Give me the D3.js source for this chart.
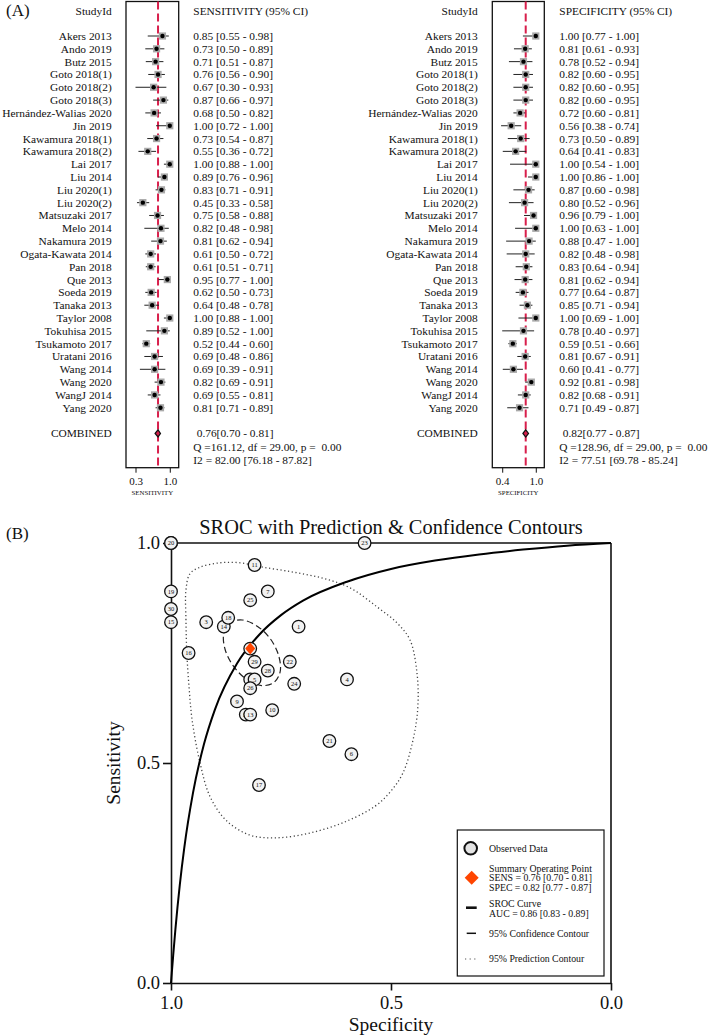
<!DOCTYPE html>
<html><head><meta charset="utf-8">
<script src="https://cdn.jsdelivr.net/npm/d3@7"></script>
<style>
body{margin:0;background:#fff}
svg{display:block}
text{font-family:"Liberation Serif","Times New Roman",serif;fill:#111}
</style>
</head><body>
<svg id="c" width="709" height="1036"></svg>
<script>
// ---------------- DATA ----------------
const studies = ["Akers 2013","Ando 2019","Butz 2015","Goto 2018(1)","Goto 2018(2)","Goto 2018(3)",
 "Hernández-Walias 2020","Jin 2019","Kawamura 2018(1)","Kawamura 2018(2)","Lai 2017","Liu 2014",
 "Liu 2020(1)","Liu 2020(2)","Matsuzaki 2017","Melo 2014","Nakamura 2019","Ogata-Kawata 2014",
 "Pan 2018","Que 2013","Soeda 2019","Tanaka 2013","Taylor 2008","Tokuhisa 2015","Tsukamoto 2017",
 "Uratani 2016","Wang 2014","Wang 2020","WangJ 2014","Yang 2020"];
const sens   = [0.85,0.73,0.71,0.76,0.67,0.87,0.68,1.00,0.73,0.55,1.00,0.89,0.83,0.45,0.75,0.82,0.81,0.61,0.61,0.95,0.62,0.64,1.00,0.89,0.52,0.69,0.69,0.82,0.69,0.81];
const sensLo = [0.55,0.50,0.51,0.56,0.30,0.66,0.50,0.72,0.54,0.36,0.88,0.76,0.71,0.33,0.58,0.48,0.62,0.50,0.51,0.77,0.50,0.48,0.88,0.52,0.44,0.48,0.39,0.69,0.55,0.71];
const sensHi = [0.98,0.89,0.87,0.90,0.93,0.97,0.82,1.00,0.87,0.72,1.00,0.96,0.91,0.58,0.88,0.98,0.94,0.72,0.71,1.00,0.73,0.78,1.00,1.00,0.60,0.86,0.91,0.91,0.81,0.89];
const spec   = [1.00,0.81,0.78,0.82,0.82,0.82,0.72,0.56,0.73,0.64,1.00,1.00,0.87,0.80,0.96,1.00,0.88,0.82,0.83,0.81,0.77,0.85,1.00,0.78,0.59,0.81,0.60,0.92,0.82,0.71];
const specLo = [0.77,0.61,0.52,0.60,0.60,0.60,0.60,0.38,0.50,0.41,0.54,0.86,0.60,0.52,0.79,0.63,0.47,0.48,0.64,0.62,0.64,0.71,0.69,0.40,0.51,0.67,0.41,0.81,0.68,0.49];
const specHi = [1.00,0.93,0.94,0.95,0.95,0.95,0.81,0.74,0.89,0.83,1.00,1.00,0.98,0.96,1.00,1.00,1.00,0.98,0.94,0.94,0.87,0.94,1.00,0.97,0.66,0.91,0.77,0.98,0.91,0.87];
const srocIds = [30,29,28,27,26,25,24,23,22,21,20,19,18,17,16,15,14,13,12,11,10,9,8,7,6,5,4,3,2,1];

const pooledSens = [0.76,0.70,0.81];
const pooledSpec = [0.82,0.77,0.87];
const sensStats = ["Q =161.12, df = 29.00, p =  0.00","I2 = 82.00 [76.18 - 87.82]"];
const specStats = ["Q =128.96, df = 29.00, p =  0.00","I2 = 77.51 [69.78 - 85.24]"];
const sensTicks = [0.3,1.0];
const specTicks = [0.4,1.0];
const srocTicks = [0,0.5,1];

// SROC curve (false-positive rate, sensitivity)
const curveFpr  = [0,0.0005,0.001,0.002,0.005,0.01,0.02,0.03,0.05,0.075,0.10,0.15,0.20,0.25,0.30,0.40,0.50,0.60,0.70,0.80,0.90,1.00];
const curveSens = [0,0.006,0.013,0.026,0.063,0.122,0.223,0.306,0.432,0.543,0.622,0.726,0.791,0.836,0.869,0.912,0.941,0.960,0.974,0.985,0.994,1.00];
// contours [specificity, sensitivity]
const confContour = [[0.766,0.683],[0.794,0.676],[0.828,0.690],[0.858,0.720],[0.877,0.758],[0.880,0.794],
 [0.865,0.819],[0.838,0.825],[0.804,0.811],[0.774,0.782],[0.755,0.743],[0.752,0.707]];
const predContour = [[0.964,0.750],[0.966,0.825],[0.966,0.893],[0.957,0.930],[0.934,0.945],[0.889,0.955],
 [0.843,0.955],[0.791,0.945],[0.723,0.934],[0.655,0.920],[0.593,0.898],[0.532,0.855],[0.486,0.818],
 [0.457,0.780],[0.441,0.705],[0.439,0.627],[0.450,0.552],[0.473,0.477],[0.502,0.434],[0.536,0.402],
 [0.605,0.366],[0.684,0.341],[0.759,0.330],[0.820,0.336],[0.873,0.368],[0.911,0.423],[0.934,0.500],
 [0.952,0.598],[0.959,0.673]];
const legendLabels = [["Observed Data"],["Summary Operating Point","SENS = 0.76 [0.70 - 0.81]","SPEC = 0.82 [0.77 - 0.87]"],
 ["SROC Curve","AUC = 0.86 [0.83 - 0.89]"],["95% Confidence Contour"],["95% Prediction Contour"]];

// ---------------- DRAW ----------------
const svg = d3.select("#c");
const f2 = d3.format(".2f"), f1 = d3.format(".1f");
const FS = 11.4;
const rowY = d3.scaleLinear().domain([0,31]).range([36,433.4]);

svg.append("text").attr("x",6).attr("y",16).attr("font-size",17).text("(A)");
svg.append("text").attr("x",6).attr("y",539).attr("font-size",17).text("(B)");

function forest(c){
  const x = d3.scaleLinear().domain(c.domain).range(c.range);
  const g = svg.append("g");
  const top = 1.5, bot = 467.7;
  g.append("text").attr("x",c.nameX).attr("y",11).attr("dy","0.35em").attr("text-anchor","end")
    .attr("font-size",FS).text("StudyId");
  g.append("text").attr("x",c.textX).attr("y",11).attr("dy","0.35em").attr("font-size",FS).text(c.header);
  // names + CI text
  studies.forEach((s,i)=>{
    g.append("text").attr("x",c.nameX).attr("y",rowY(i)).attr("dy","0.35em").attr("text-anchor","end")
      .attr("font-size",FS).text(s);
    g.append("text").attr("x",c.textX).attr("y",rowY(i)).attr("dy","0.35em").attr("font-size",FS)
      .text(`${f2(c.v[i])} [${f2(c.lo[i])} - ${f2(c.hi[i])}]`);
  });
  g.append("text").attr("x",c.nameX).attr("y",rowY(31)).attr("dy","0.35em").attr("text-anchor","end")
    .attr("font-size",FS).text("COMBINED");
  g.append("text").attr("x",c.textX+3.4).attr("y",rowY(31)).attr("dy","0.35em").attr("font-size",FS)
    .text(`${f2(c.pooled[0])}[${f2(c.pooled[1])} - ${f2(c.pooled[2])}]`);
  c.stats.forEach((t,k)=>{
    g.append("text").attr("x",c.textX).attr("y",rowY(32+k)+0.5).attr("dy","0.35em").attr("font-size",FS)
      .style("white-space","pre").text(t);
  });
  // box
  g.append("rect").attr("x",c.range[0]).attr("y",top).attr("width",c.range[1]-c.range[0]).attr("height",bot-top)
    .attr("fill","none").attr("stroke","#111").attr("stroke-width",1.3);
  // pooled line
  g.append("line").attr("x1",x(c.pooled[0])).attr("x2",x(c.pooled[0])).attr("y1",top).attr("y2",bot)
    .attr("stroke","#d81f4c").attr("stroke-width",2).attr("stroke-dasharray","8,4");
  // study marks
  const rows = g.selectAll("g.row").data(studies).join("g");
  rows.append("line").attr("x1",(d,i)=>x(c.lo[i])).attr("x2",(d,i)=>x(c.hi[i]))
    .attr("y1",(d,i)=>rowY(i)).attr("y2",(d,i)=>rowY(i)).attr("stroke","#222").attr("stroke-width",1);
  rows.append("rect").attr("x",(d,i)=>x(c.v[i])-3.6).attr("y",(d,i)=>rowY(i)-3.6).attr("width",7.2).attr("height",7.2)
    .attr("fill","#a9a9a9");
  rows.append("circle").attr("cx",(d,i)=>x(c.v[i])).attr("cy",(d,i)=>rowY(i)).attr("r",2.2).attr("fill","#000");
  // pooled diamond
  const py = rowY(31);
  g.append("path").attr("d",`M${x(c.pooled[1])},${py}L${x(c.pooled[0])},${py-3.6}L${x(c.pooled[2])},${py}L${x(c.pooled[0])},${py+3.6}Z`)
    .attr("fill","#d81f4c").attr("stroke","#111").attr("stroke-width",1.2);
  // axis
  const ax = g.append("g").attr("transform",`translate(0,${bot})`)
    .call(d3.axisBottom(x).tickValues(c.ticks).tickFormat(f1).tickSize(5).tickPadding(4.5));
  ax.select(".domain").remove();
  ax.selectAll("line").attr("stroke","#111").attr("stroke-width",1);
  ax.selectAll("text").attr("font-size",11).attr("font-family","Liberation Serif").attr("fill","#111");
  g.append("text").attr("x",(c.range[0]+c.range[1])/2).attr("y",495).attr("text-anchor","middle")
    .attr("font-size",6.8).text(c.axisLabel);
}

forest({domain:[0.106,1.182],range:[126,178.7],nameX:111.7,textX:193.3,v:sens,lo:sensLo,hi:sensHi,
  pooled:pooledSens,stats:sensStats,ticks:sensTicks,axisLabel:"SENSITIVITY",header:"SENSITIVITY (95% CI)"});
forest({domain:[0.223,1.152],range:[492.3,544.3],nameX:477.7,textX:559.3,v:spec,lo:specLo,hi:specHi,
  pooled:pooledSpec,stats:specStats,ticks:specTicks,axisLabel:"SPECIFICITY",header:"SPECIFICITY (95% CI)"});

// ---------------- SROC ----------------
const X = d3.scaleLinear().domain([1,0]).range([171,611]);
const Y = d3.scaleLinear().domain([0,1]).range([983,543]);
const s = svg.append("g");

s.append("text").attr("x",X(0.5)).attr("y",534).attr("text-anchor","middle").attr("font-size",20.4)
  .text("SROC with Prediction & Confidence Contours");

const xa = s.append("g").attr("transform",`translate(0,${Y(0)})`)
  .call(d3.axisBottom(X).tickValues(srocTicks).tickFormat(f1).tickSize(7.5).tickSizeOuter(0).tickPadding(5.5));
const ya = s.append("g").attr("transform",`translate(${X(1)},0)`)
  .call(d3.axisLeft(Y).tickValues(srocTicks).tickFormat(f1).tickSize(8).tickSizeOuter(0).tickPadding(3));
[xa,ya].forEach(a=>{
  a.selectAll("path,line").attr("stroke","#111").attr("stroke-width",1.6);
  a.selectAll("text").attr("font-size",18.5).attr("font-family","Liberation Serif").attr("fill","#111");
});
s.append("line").attr("x1",X(1)).attr("x2",X(0)).attr("y1",Y(1)).attr("y2",Y(1)).attr("stroke","#111").attr("stroke-width",1.6);
s.append("line").attr("x1",X(0)).attr("x2",X(0)).attr("y1",Y(1)).attr("y2",Y(0)).attr("stroke","#111").attr("stroke-width",1.6);

s.append("text").attr("transform",`translate(120,${Y(0.5)}) rotate(-90)`).attr("text-anchor","middle")
  .attr("font-size",19.5).text("Sensitivity");
s.append("text").attr("x",X(0.5)).attr("y",1031).attr("text-anchor","middle").attr("font-size",19.5).text("Specificity");

// prediction contour
s.append("path").datum(predContour)
  .attr("d",d3.line().x(d=>X(d[0])).y(d=>Y(d[1])).curve(d3.curveCatmullRomClosed))
  .attr("fill","none").attr("stroke","#444").attr("stroke-width",1.3).attr("stroke-dasharray","1.2,2.6");
// confidence contour
s.append("path").datum(confContour)
  .attr("d",d3.line().x(d=>X(d[0])).y(d=>Y(d[1])).curve(d3.curveCatmullRomClosed))
  .attr("fill","none").attr("stroke","#222").attr("stroke-width",1.2).attr("stroke-dasharray","6.5,3.5");
// SROC curve
s.append("path").datum(curveFpr.map((v,i)=>[1-v,curveSens[i]]))
  .attr("d",d3.line().x(d=>X(d[0])).y(d=>Y(d[1])).curve(d3.curveMonotoneX))
  .attr("fill","none").attr("stroke","#000").attr("stroke-width",2);

// observed points, drawn in id order
const order = d3.range(studies.length).sort((a,b)=>srocIds[a]-srocIds[b]);
const pts = s.selectAll("g.pt").data(order).join("g")
  .attr("transform",i=>`translate(${X(spec[i])},${Y(sens[i])})`);
pts.append("circle").attr("r",6.3).attr("fill","#f2f2f2").attr("stroke","#111").attr("stroke-width",1.3);
pts.append("text").attr("text-anchor","middle").attr("dy","0.35em").attr("font-size",6.5)
  .attr("fill","#333").text(i=>srocIds[i]);

// summary point
const sx = X(pooledSpec[0]), sy = Y(pooledSens[0]);
s.append("path").attr("d",`M${sx-5},${sy}L${sx},${sy-6}L${sx+5},${sy}L${sx},${sy+6}Z`).attr("fill","#ff4500");

// legend
const L = s.append("g");
L.append("rect").attr("x",457.3).attr("y",830).attr("width",146.7).attr("height",146).attr("fill","#fff")
  .attr("stroke","#111").attr("stroke-width",1.2);
L.append("circle").attr("cx",470.7).attr("cy",848.3).attr("r",6.3).attr("fill","#e4e4e4").attr("stroke","#111").attr("stroke-width",2);
L.append("path").attr("d","M464.7,877.7L471.7,870.7L478.7,877.7L471.7,884.7Z").attr("fill","#ff4500");
L.append("line").attr("x1",466).attr("x2",476.7).attr("y1",907.7).attr("y2",907.7).attr("stroke","#111").attr("stroke-width",2.6);
L.append("line").attr("x1",466.7).attr("x2",476).attr("y1",933.3).attr("y2",933.3).attr("stroke","#111").attr("stroke-width",1.5);
L.append("line").attr("x1",465).attr("x2",477).attr("y1",959).attr("y2",959).attr("stroke","#555").attr("stroke-width",1.2).attr("stroke-dasharray","1.2,3.4");
const legY = [[848.3],[868.3,877.7,887.3],[903.3,913.3],[933.3],[959]];
legendLabels.forEach((lines,k)=>lines.forEach((t,j)=>{
  L.append("text").attr("x",489).attr("y",legY[k][j]).attr("dy","0.35em").attr("font-size",9.8).text(t);
}));
</script>
</body></html>
